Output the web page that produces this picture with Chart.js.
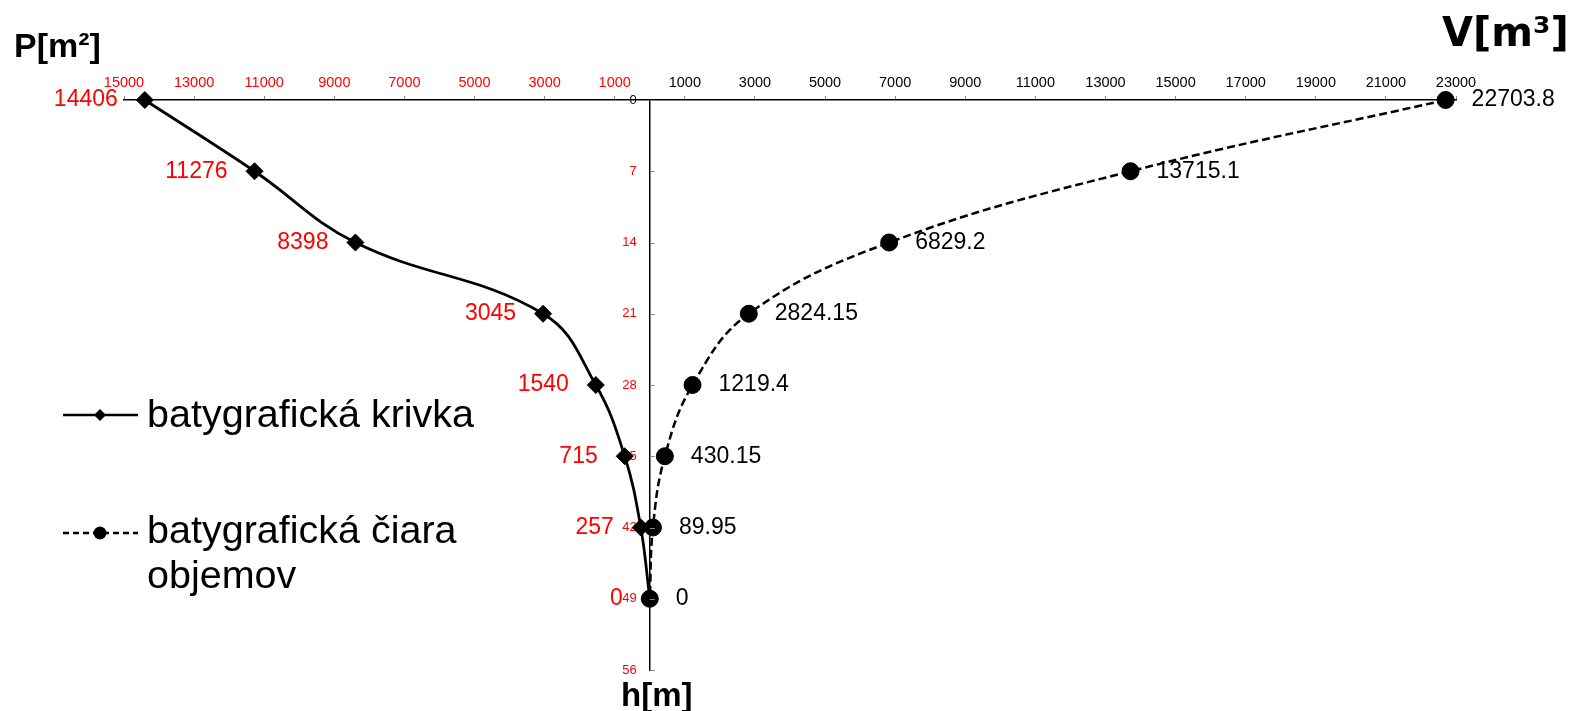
<!DOCTYPE html>
<html>
<head>
<meta charset="utf-8">
<script src="https://cdn.jsdelivr.net/npm/chart.js@4"></script>
<style>
  html, body { margin: 0; padding: 0; background: #fff; }
  #wrap { width: 1569px; height: 711px; }
</style>
</head>
<body>
<div id="wrap"><canvas id="c" width="1569" height="711"></canvas></div>
<script>
// hĺbka [m]
const depths = [0, 7, 14, 21, 28, 35, 42, 49];
// plocha P [m2] - batygrafická krivka
const areas = [14406, 11276, 8398, 3045, 1540, 715, 257, 0];
// objem V [m3] - batygrafická čiara objemov
const volumes = [22703.8, 13715.1, 6829.2, 2824.15, 1219.4, 430.15, 89.95, 0];
const seriesNames = ['batygrafická krivka', 'batygrafická čiara objemov'];

const RED = '#ff0000';
const SANS = '"Liberation Sans", Arial, sans-serif';

// popisky bodov, osi a legenda
const extras = {
  id: 'extras',
  afterDatasetsDraw(chart) {
    const ctx = chart.ctx;
    ctx.save();
    ctx.font = '23px ' + SANS;
    ctx.textBaseline = 'middle';

    const left = chart.getDatasetMeta(0).data;
    ctx.fillStyle = RED;
    ctx.textAlign = 'right';
    left.forEach((pt, i) => ctx.fillText(String(areas[i]), pt.x - 27, pt.y));

    const right = chart.getDatasetMeta(1).data;
    ctx.fillStyle = '#000';
    ctx.textAlign = 'left';
    right.forEach((pt, i) => ctx.fillText(String(volumes[i]), pt.x + 26, pt.y));

    // malé značky na zvislej osi (vpravo)
    const ys = chart.scales.y;
    const x0 = chart.scales.x.getPixelForValue(0);
    ctx.strokeStyle = '#888';
    ctx.lineWidth = 1;
    ys.ticks.forEach(t => {
      const y = Math.round(ys.getPixelForValue(t.value)) + 0.5;
      ctx.beginPath();
      ctx.moveTo(x0, y);
      ctx.lineTo(x0 + 5, y);
      ctx.stroke();
    });

    // názvy osí
    ctx.fillStyle = '#000';
    ctx.textBaseline = 'alphabetic';
    ctx.textAlign = 'left';
    ctx.font = 'bold 34px ' + SANS;
    ctx.fillText('P[m²]', 14, 57);
    ctx.font = 'bold 33px ' + SANS;
    ctx.fillText('h[m]', 621, 706);
    ctx.font = 'bold 40px "DejaVu Sans", sans-serif';
    ctx.fillText('V[m³]', 1442, 46);

    // legenda
    ctx.strokeStyle = '#000';
    ctx.lineWidth = 2.5;
    ctx.beginPath();
    ctx.moveTo(63, 415);
    ctx.lineTo(138, 415);
    ctx.stroke();
    ctx.fillStyle = '#000';
    ctx.beginPath();
    ctx.moveTo(100, 409); ctx.lineTo(106, 415); ctx.lineTo(100, 421); ctx.lineTo(94, 415);
    ctx.closePath();
    ctx.fill();

    ctx.setLineDash([6, 4]);
    ctx.beginPath();
    ctx.moveTo(63, 533);
    ctx.lineTo(138, 533);
    ctx.stroke();
    ctx.setLineDash([]);
    ctx.beginPath();
    ctx.arc(100, 533, 6.5, 0, Math.PI * 2);
    ctx.fill();

    ctx.font = '39.5px ' + SANS;
    ctx.fillText(seriesNames[0], 147, 427);
    ctx.fillText('batygrafická čiara', 147, 543);
    ctx.fillText('objemov', 147, 588);
    ctx.restore();
  }
};

new Chart(document.getElementById('c'), {
  type: 'scatter',
  data: {
    datasets: [{
      label: seriesNames[0],
      data: depths.map((h, i) => ({ x: -areas[i], y: h })),
      showLine: true,
      clip: false,
      borderColor: '#000',
      borderWidth: 2.75,
      tension: 0.4,
      pointStyle: 'rectRot',
      pointRadius: 8.5,
      pointBackgroundColor: '#000',
      pointBorderColor: '#000',
      pointBorderWidth: 1
    }, {
      label: seriesNames[1],
      data: depths.map((h, i) => ({ x: volumes[i], y: h })),
      showLine: true,
      clip: false,
      borderColor: '#000',
      borderWidth: 2.5,
      borderDash: [8, 4],
      tension: 0.4,
      pointStyle: 'circle',
      pointRadius: 8.5,
      pointBackgroundColor: '#000',
      pointBorderColor: '#000',
      pointBorderWidth: 1
    }]
  },
  options: {
    responsive: false,
    animation: false,
    layout: { padding: { left: 124, right: 113, top: 70, bottom: 41 } },
    plugins: { legend: { display: false }, tooltip: { enabled: false } },
    scales: {
      x: {
        type: 'linear',
        position: 'top',
        min: -15000,
        max: 23000,
        afterFit: s => { s.height = 30; },
        ticks: {
          stepSize: 2000,
          padding: 4,
          maxRotation: 0,
          autoSkip: false,
          font: { family: SANS, size: 14.5 },
          color: c => (c.tick && c.tick.value < 0 ? RED : '#000'),
          callback: v => String(Math.abs(v))
        },
        grid: { drawOnChartArea: false, tickLength: 4, tickColor: '#888' },
        border: { color: '#000', width: 1.5 }
      },
      y: {
        type: 'linear',
        position: { x: 0 },
        reverse: true,
        min: 0,
        max: 56,
        afterFit: s => { s.width = 0; },
        ticks: { display: false, stepSize: 7 },
        grid: { drawOnChartArea: false, drawTicks: false },
        border: { color: '#000', width: 1.5 }
      },
      yLabels: {
        type: 'linear',
        position: { x: -371 },
        reverse: true,
        z: 1,
        min: 0,
        max: 56,
        afterFit: s => { s.width = 0; },
        ticks: {
          stepSize: 7,
          font: { family: SANS, size: 13 },
          color: c => (c.tick && c.tick.value === 0 ? '#000' : RED)
        },
        grid: { display: false },
        border: { display: false }
      }
    }
  },
  plugins: [extras]
});
</script>
</body>
</html>
